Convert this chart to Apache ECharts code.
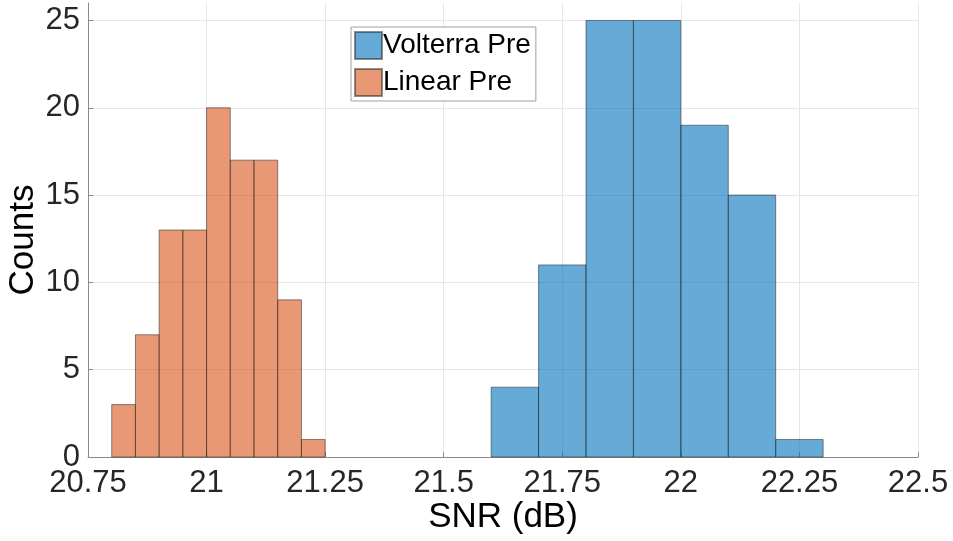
<!DOCTYPE html>
<html>
<head>
<meta charset="utf-8">
<script src="https://cdn.jsdelivr.net/npm/echarts@6/dist/echarts.min.js"></script>
<style>
  html, body { margin: 0; padding: 0; background: #fff; }
  #chart { width: 953px; height: 541px; }
</style>
</head>
<body>
<div id="chart"></div>
<script>
// Histogram bin edges (dB) and counts for each pre-distortion method
const volterraEdges = [21.6, 21.7, 21.8, 21.9, 22.0, 22.1, 22.2, 22.3];
const volterraCounts = [4, 11, 25, 25, 19, 15, 1];

const linearEdges = [20.80, 20.85, 20.90, 20.95, 21.00, 21.05, 21.10, 21.15, 21.20, 21.25];
const linearCounts = [3, 7, 13, 13, 20, 17, 17, 9, 1];

const xTicks = [20.75, 21, 21.25, 21.5, 21.75, 22, 22.25, 22.5];
const yTicks = [0, 5, 10, 15, 20, 25];

const FONT = '"Liberation Sans", Arial, Helvetica, sans-serif';
const TEXT = '#262626';

// Turn edges + counts into [left, right, count] bins
function toBins(edges, counts) {
  return counts.map((c, i) => [edges[i], edges[i + 1], c]);
}

function histSeries(name, edges, counts, fill) {
  const style = { color: fill, borderColor: 'rgba(30,30,30,0.5)', borderWidth: 1 };
  return {
    name: name,
    type: 'custom',
    itemStyle: style,
    encode: { x: [0, 1], y: 2 },
    data: toBins(edges, counts),
    renderItem: function (params, api) {
      const topLeft = api.coord([api.value(0), api.value(2)]);
      const bottomRight = api.coord([api.value(1), 0]);
      return {
        type: 'rect',
        shape: {
          x: topLeft[0],
          y: topLeft[1],
          width: bottomRight[0] - topLeft[0],
          height: bottomRight[1] - topLeft[1]
        },
        style: { fill: fill, stroke: style.borderColor, lineWidth: 1 }
      };
    }
  };
}

const chart = echarts.init(document.getElementById('chart'), null, { renderer: 'canvas' });

chart.setOption({
  animation: false,
  backgroundColor: '#ffffff',
  textStyle: { fontFamily: FONT },
  grid: { left: 88, right: 35, top: 3, bottom: 84, containLabel: false, outerBoundsMode: 'none' },
  legend: {
    orient: 'vertical',
    left: 351,
    top: 27,
    itemWidth: 27,
    itemHeight: 27,
    itemGap: 8,
    padding: [4, 5, 4, 3],
    borderColor: '#a0a0a0',
    borderWidth: 1,
    backgroundColor: '#ffffff',
    data: [
      { name: 'Volterra Pre', icon: 'rect' },
      { name: 'Linear Pre', icon: 'rect' }
    ],
    textStyle: { fontSize: 28, color: '#000', fontFamily: FONT, padding: [0, 0, 0, -4] }
  },
  xAxis: {
    type: 'value',
    min: 20.75,
    max: 22.5,
    interval: 0.25,
    name: 'SNR (dB)',
    nameLocation: 'middle',
    nameGap: 43,
    nameMoveOverlap: false,
    nameTextStyle: { fontSize: 35, color: '#000', fontFamily: FONT },
    axisLine: { show: true, lineStyle: { color: '#8a8a8a', width: 1 } },
    axisTick: { show: true, inside: true, length: 5, lineStyle: { color: '#8a8a8a' }, customValues: xTicks },
    axisLabel: {
      fontSize: 31, color: TEXT, margin: 11, fontFamily: FONT,
      customValues: xTicks,
      formatter: v => String(v)
    },
    splitLine: { show: true, lineStyle: { color: '#e6e6e6', width: 1 } }
  },
  yAxis: {
    type: 'value',
    min: 0,
    max: 26,
    interval: 5,
    name: 'Counts',
    nameLocation: 'middle',
    nameGap: 47,
    nameMoveOverlap: false,
    nameTextStyle: { fontSize: 35, color: '#000', fontFamily: FONT, padding: [0, 20, 0, 0] },
    axisLine: { show: true, lineStyle: { color: '#8a8a8a', width: 1 } },
    axisTick: { show: true, inside: true, length: 5, lineStyle: { color: '#8a8a8a' }, customValues: yTicks },
    axisLabel: {
      fontSize: 31, color: TEXT, margin: 8, fontFamily: FONT,
      customValues: yTicks,
      formatter: v => (v % 5 === 0 ? String(v) : '')
    },
    splitLine: { show: true, lineStyle: { color: '#e6e6e6', width: 1 } }
  },
  series: [
    histSeries('Volterra Pre', volterraEdges, volterraCounts, 'rgba(0,114,189,0.6)'),
    histSeries('Linear Pre', linearEdges, linearCounts, 'rgba(217,83,25,0.6)')
  ]
});
</script>
</body>
</html>
